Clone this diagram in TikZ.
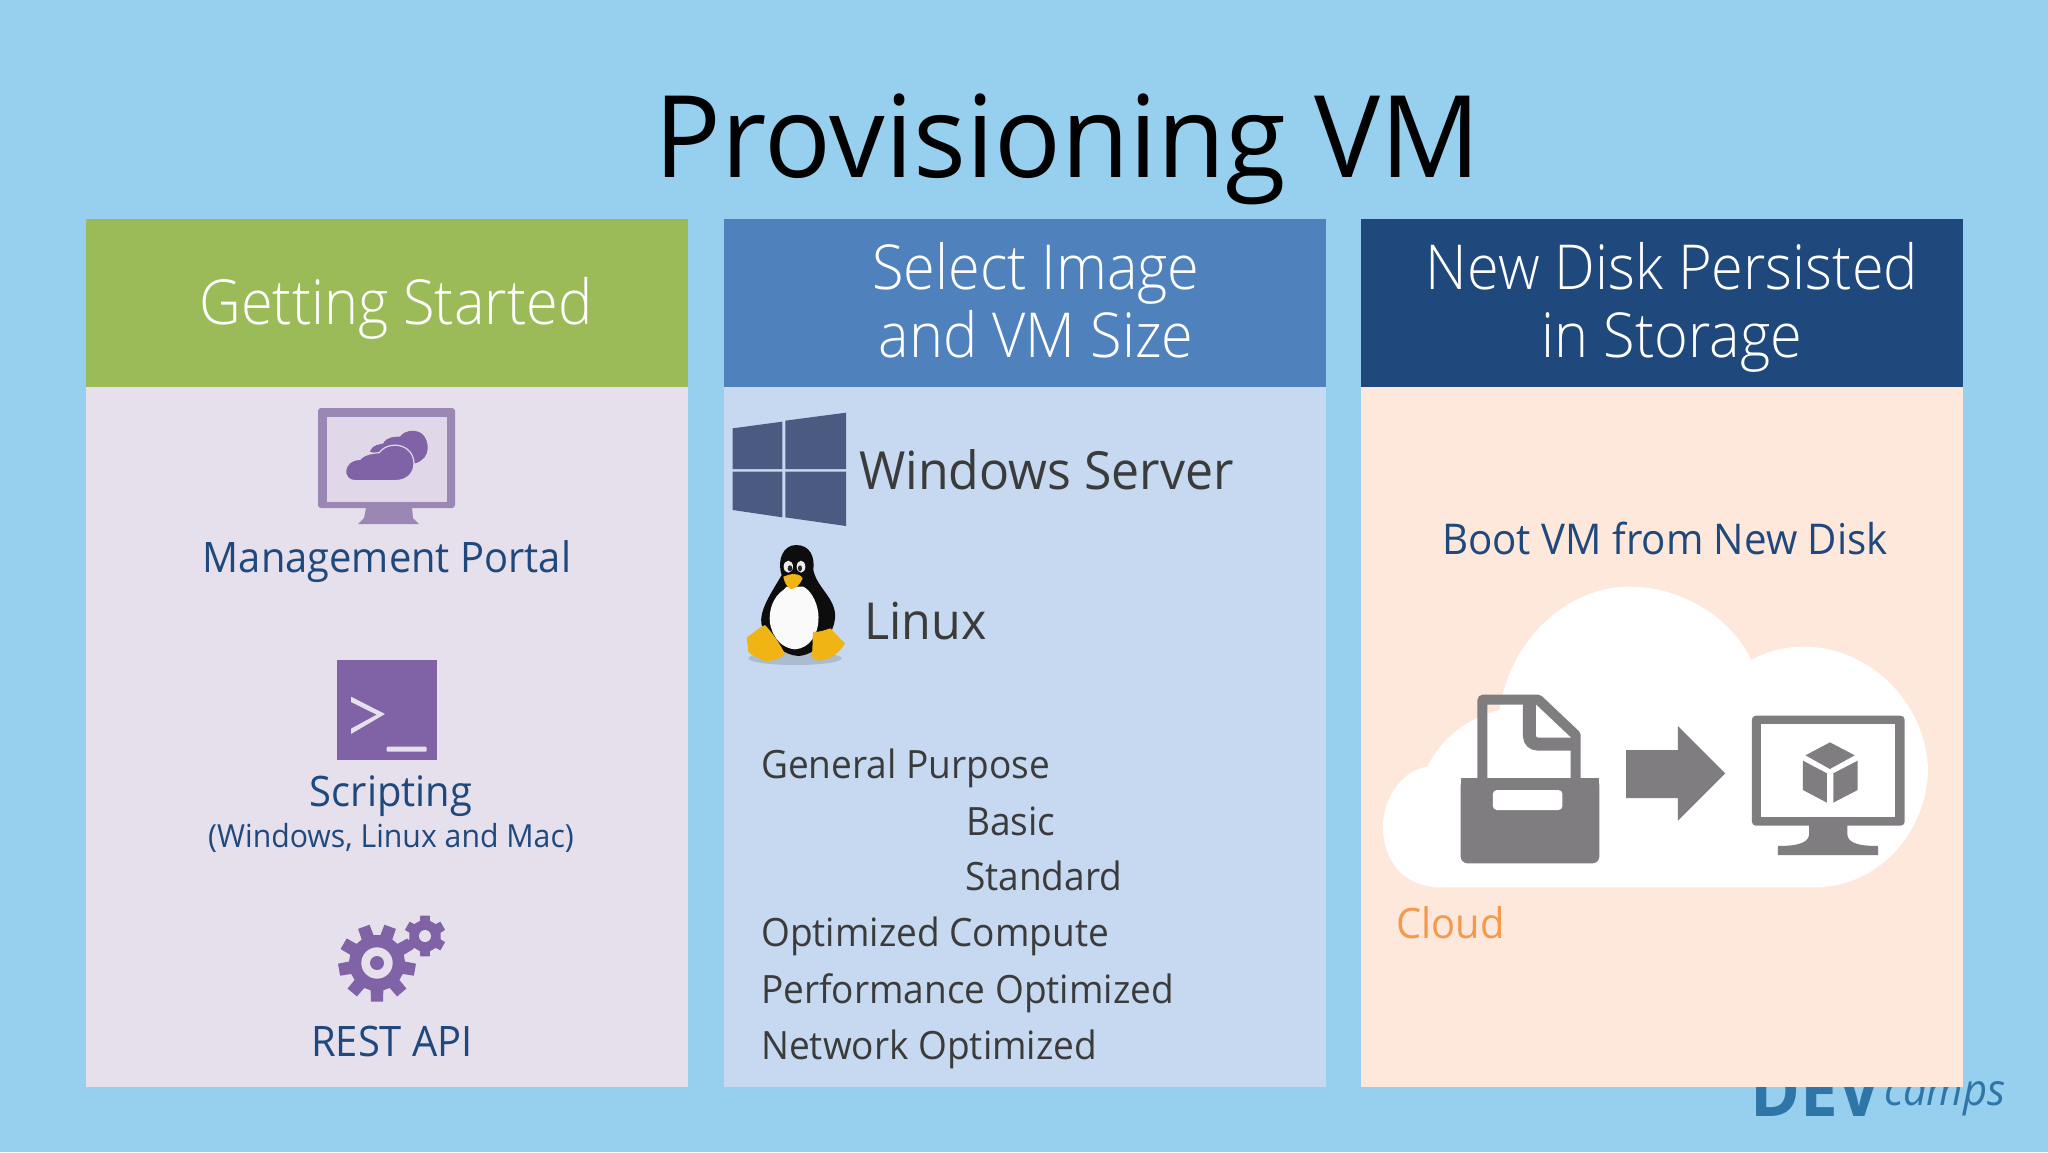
\documentclass[tikz,border=0pt]{standalone}
\usepackage{fontspec}
\setmainfont{Open Sans}[FakeStretch=0.95]
\newfontfamily\lightf{Open Sans Light}[FakeStretch=0.93]
\newfontfamily\titlef{Open Sans}[FakeStretch=0.973]
\definecolor{bgc}{HTML}{97CFEF}
\definecolor{hgreen}{HTML}{9BBB59}
\definecolor{hblue}{HTML}{4F81BD}
\definecolor{hnavy}{HTML}{1F497D}
\definecolor{ppurple}{HTML}{E6DFEC}
\definecolor{pblue}{HTML}{C6D9F1}
\definecolor{ppeach}{HTML}{FEE8DB}
\definecolor{iconp}{HTML}{7F63A6}
\definecolor{iconl}{HTML}{9A87B3}
\definecolor{winc}{HTML}{4A5A80}
\definecolor{greyic}{HTML}{7F7D80}
\definecolor{txtd}{HTML}{3B3B3B}
\definecolor{logoc}{HTML}{2E75A8}
\definecolor{tuxy}{HTML}{F0B414}
\definecolor{cloudo}{HTML}{F39A4E}
\tikzset{
  head/.style={text=white,font=\lightf\fontsize{62}{68}\selectfont,inner sep=0pt,anchor=base},
  lbl/.style={text=hnavy,font=\fontsize{42}{48}\selectfont,inner sep=0pt},
  item/.style={text=txtd,font=\fontsize{39}{44}\selectfont,inner sep=0pt,anchor=west},
  os/.style={text=txtd,font=\fontsize{52.6}{58}\selectfont,inner sep=0pt,anchor=west},
  zoomed/.style={x=0.33333pt,y=-0.33333pt},
  zoomedw/.style={x=0.37pt,y=-0.33333pt}
}
\begin{document}
\begin{tikzpicture}[x=1pt,y=-1pt]
\useasboundingbox (0,0) rectangle (2048,1152);
\fill[bgc] (0,0) rectangle (2048,1152);
% logo, cut by the panel
\node[inner sep=0pt,anchor=base west,text=logoc,font=\bfseries\fontsize{71}{72}\selectfont] (logoa) at (1750,1116) {DEV};
\node[inner sep=0pt,anchor=base west,text=logoc,font=\itshape\fontsize{44}{46}\selectfont] (logob) at (1884,1105) {camps};
% title
\node[inner sep=0pt,font=\titlef\fontsize{114}{120}\selectfont] (title) at (1068,149) {Provisioning VM};
% panels
\fill[ppurple] (86,387) rectangle (688,1087);
\fill[pblue] (724,387) rectangle (1326,1087);
\fill[ppeach] (1361,387) rectangle (1963,1087);
\fill[hgreen] (86,219) rectangle (688,387);
\fill[hblue] (724,219) rectangle (1326,387);
\fill[hnavy] (1361,219) rectangle (1963,387);
\node[head] (h1) at (396,324) {Getting Started};
\node[head] (h2a) at (1036,289) {Select Image};
\node[head] (h2b) at (1036,357) {and VM Size};
\node[head] (h3a) at (1672,289) {New Disk Persisted};
\node[head] (h3b) at (1672,357) {in Storage};
% column 1
\node[lbl] (l1) at (387,562) {Management Portal};
\node[lbl] (l2) at (391,796) {Scripting};
\node[lbl,font=\fontsize{31.8}{36}\selectfont] (l3) at (391,838) {(Windows, Linux and Mac)};
\node[lbl] (l4) at (392,1041) {REST API};
% monitor icon
\fill[iconl,rounded corners=3] (318,408) rectangle (455,508);
\fill[ppurple!92!iconl] (327,417) rectangle (447,502);
\fill[iconl] (366,508) -- (412,508) -- (413,518) -- (419,524) -- (358,524) -- (364,518) -- cycle;
% cloud in monitor
\begin{scope}[shift={(280,390)},zoomed]
\fill[iconp] (270,185) .. controls (280,160) and (300,165) .. (310,160) .. controls (320,140) and (345,140) .. (360,140) .. controls (375,120) and (400,120) .. (415,125) .. controls (445,135) and (455,190) .. (425,210) .. controls (415,218) and (405,222) .. (390,220) -- cycle;
\fill[iconp,draw=ppurple!92!iconl,line width=1.2pt] (225,272) .. controls (185,272) and (185,210) .. (240,208) .. controls (255,190) and (280,190) .. (298,188) .. controls (325,150) and (400,160) .. (402,220) .. controls (402,255) and (375,272) .. (345,272) -- cycle;
\end{scope}
% terminal
\fill[iconp] (337,660) rectangle (437,760);
\begin{scope}[shift={(300,640)},zoomed]
\fill[ppurple] (153,170) -- (255,222) -- (153,282) -- (153,266) -- (230,224) -- (153,186) -- cycle;
\fill[ppurple,rounded corners=1] (260,320) rectangle (380,335);
\end{scope}
% gears
\begin{scope}[shift={(377,963)}]
\fill[iconp] (90-13:28) \foreach \a in {0,40,...,320}{
  -- (\a+90-13:28) -- (\a+90-9:39) -- (\a+90+9:39) -- (\a+90+13:28) -- (\a+90+27:28)} -- cycle;
\fill[ppurple] (0,0) circle (15.7);
\fill[iconp] (0,0) circle (7);
\end{scope}
\begin{scope}[shift={(425,936)}]
\fill[iconp] (90-18:16) \foreach \a in {0,60,...,300}{
  -- (\a+90-18:16) -- (\a+90-13:21) -- (\a+90+13:21) -- (\a+90+18:16) -- (\a+90+42:16)} -- cycle;
\fill[ppurple] (0,0) circle (6);
\end{scope}
% windows logo
\begin{scope}[shift={(720,400)},zoomed]
\fill[winc] (38,85) -- (187,65) -- (187,207) -- (38,207) -- cycle;
\fill[winc] (196,62) -- (378,38) -- (378,207) -- (196,207) -- cycle;
\fill[winc] (38,215) -- (187,215) -- (187,352) -- (38,330) -- cycle;
\fill[winc] (196,215) -- (378,215) -- (378,378) -- (196,352) -- cycle;
% tux
\fill[black!45!pblue,opacity=.3] (225,775) ellipse (140 and 20);
\fill[black!90!gray] (228,435) .. controls (190,435) and (170,480) .. (185,525) .. controls (160,570) and (115,630) .. (125,675) .. controls (150,730) and (190,765) .. (235,768) .. controls (290,765) and (350,700) .. (345,640) .. controls (340,590) and (290,560) .. (280,510) .. controls (285,470) and (270,435) .. (228,435) -- cycle;
\fill[white!96!gray] (190,570) .. controls (160,590) and (145,630) .. (150,670) .. controls (160,720) and (190,745) .. (225,748) .. controls (270,745) and (300,700) .. (295,640) .. controls (290,600) and (270,570) .. (250,560) -- (200,560) -- cycle;
\fill[white!85!gray] (205,500) ellipse (14 and 18) (243,500) ellipse (13 and 18);
\fill[black!85] (210,505) ellipse (7 and 9) (240,505) ellipse (6 and 9);
\fill[tuxy] (190,530) .. controls (210,522) and (235,515) .. (248,535) .. controls (240,555) and (225,568) .. (212,567) .. controls (200,560) and (192,545) .. (190,530) -- cycle;
\fill[tuxy] (80,712) .. controls (100,700) and (120,680) .. (135,675) .. controls (150,690) and (180,730) .. (195,762) .. controls (175,780) and (145,785) .. (130,782) .. controls (110,770) and (90,765) .. (85,755) -- cycle;
\fill[tuxy] (280,695) .. controls (295,698) and (315,690) .. (332,685) .. controls (345,700) and (365,720) .. (375,730) .. controls (360,755) and (335,778) .. (300,782) .. controls (285,780) and (275,775) .. (275,765) .. controls (280,745) and (275,720) .. (280,695) -- cycle;
\end{scope}
% column 2
\node[os] (win) at (859,470) {Windows Server};
\node[os,font=\fontsize{51}{58}\selectfont] (lin) at (864,621) {Linux};
\node[item] (gp) at (761,768) {General Purpose};
\node[item] (ba) at (966,821) {Basic};
\node[item] (st) at (965,876) {Standard};
\node[item] (oc) at (761,936) {Optimized Compute};
\node[item] (po) at (761,993) {Performance Optimized};
\node[item] (no) at (761,1049) {Network Optimized};
% column 3
\node[lbl,font=\fontsize{42.4}{48}\selectfont] (boot) at (1665,538) {Boot VM from New Disk};
\node[lbl,anchor=west,text=cloudo] (cl) at (1396,923) {Cloud};
\begin{scope}[shift={(1370,570)},zoomedw]
\fill[white] (190,952) .. controls (90,952) and (35,870) .. (35,770) .. controls (35,680) and (90,600) .. (155,590) .. controls (195,500) and (270,440) .. (350,420) .. controls (380,200) and (540,50) .. (700,50) .. controls (850,50) and (980,150) .. (1030,270) .. controls (1080,240) and (1130,230) .. (1170,230) .. controls (1360,230) and (1505,410) .. (1508,600) .. controls (1505,780) and (1380,952) .. (1200,952) -- cycle;
\draw[greyic,line width=10pt,line join=round] (304,630) -- (304,389) -- (455,389) -- (556,495) -- (556,630);
\draw[greyic,line width=13pt,rounded corners=8pt] (431,395) -- (431,522) -- (556,522);
\fill[greyic,rounded corners=7pt] (245,625) -- (620,625) -- (620,880) -- (245,880) -- cycle;
\fill[greyic] (245,625) rectangle (620,660);
\fill[white,rounded corners=4pt] (332,660) rectangle (520,720);
\fill[greyic] (692,540) -- (832,540) -- (832,468) -- (960,610) -- (832,752) -- (832,684) -- (692,684) -- cycle;
\fill[greyic,rounded corners=4pt] (1032,437) rectangle (1445,767);
\fill[white] (1058,463) rectangle (1420,740);
\fill[greyic] (1187,760) -- (1290,760) -- (1290,790) .. controls (1290,815) and (1310,828) .. (1373,828) -- (1373,855) -- (1102,855) -- (1102,828) .. controls (1165,828) and (1187,815) .. (1187,790) -- cycle;
\fill[greyic] (1243,517) -- (1310,556) -- (1243,597) -- (1177,556) -- cycle;
\fill[greyic] (1170,572) -- (1235,610) -- (1235,698) -- (1170,660) -- cycle;
\fill[greyic] (1318,572) -- (1252,610) -- (1252,698) -- (1318,660) -- cycle;
\end{scope}
\end{tikzpicture}
\end{document}
